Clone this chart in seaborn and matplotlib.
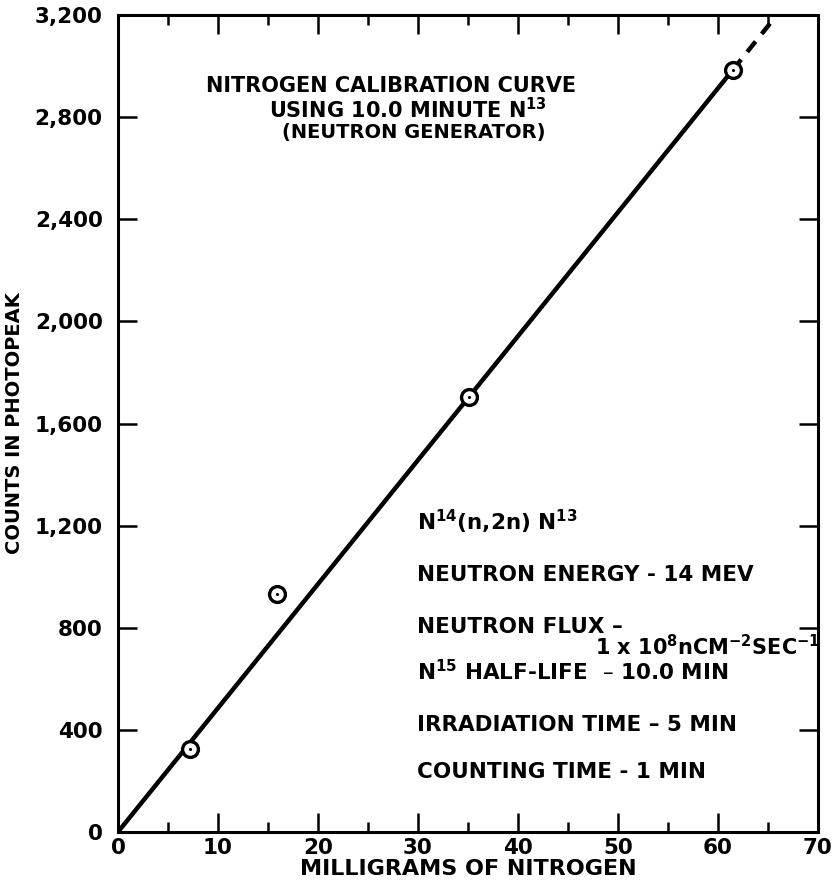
import matplotlib
matplotlib.use("Agg")
import matplotlib.pyplot as plt
import seaborn as sns
import pandas as pd
from matplotlib.ticker import MultipleLocator, FixedLocator, FixedFormatter

# ---- data ----
mg_nitrogen = [7.2, 15.9, 35.1, 61.5]
counts = [325, 933, 1702, 2985]

fit_x = [0.0, 61.5]
fit_y = [0.0, 2985.0]
ext_x = [61.5, 65.6]
ext_y = [2985.0, 3185.0]

x_ticks = [0, 10, 20, 30, 40, 50, 60, 70]
x_tick_labels = ["0", "10", "20", "30", "40", "50", "60", "70"]
y_ticks = [0, 400, 800, 1200, 1600, 2000, 2400, 2800, 3200]
y_tick_labels = ["0", "400", "800", "1,200", "1,600", "2,000", "2,400", "2,800", "3,200"]

title_lines = ["NITROGEN CALIBRATION CURVE",
               "USING 10.0 MINUTE N$^{13}$",
               "(NEUTRON GENERATOR)"]
info_lines = ["N$^{14}$(n,2n) N$^{13}$",
              "NEUTRON ENERGY - 14 MEV",
              "NEUTRON FLUX \u2013",
              "N$^{15}$ HALF-LIFE  \u2013 10.0 MIN",
              "IRRADIATION TIME \u2013 5 MIN",
              "COUNTING TIME - 1 MIN"]
flux_value = "1 x 10$^{8}$nCM$^{-2}$SEC$^{-1}$"

df_pts = pd.DataFrame({"mg": mg_nitrogen, "counts": counts})
df_fit = pd.DataFrame({"mg": fit_x, "counts": fit_y})
df_ext = pd.DataFrame({"mg": ext_x, "counts": ext_y})

sns.set_theme(style="ticks")
plt.rcParams["font.family"] = ["DejaVu Sans"]
plt.rcParams["font.weight"] = "bold"
plt.rcParams["mathtext.default"] = "bf"
plt.rcParams["text.color"] = "black"
plt.rcParams["axes.labelcolor"] = "black"
plt.rcParams["xtick.color"] = "black"
plt.rcParams["ytick.color"] = "black"

fig = plt.figure(figsize=(8.38, 8.86), dpi=100)
ax = fig.add_axes([0.1408, 0.061, 0.835, 0.922])

sns.lineplot(data=df_fit, x="mg", y="counts", ax=ax, color="black", lw=3.2)
sns.lineplot(data=df_ext, x="mg", y="counts", ax=ax, color="black", lw=3.2,
             linestyle=(0, (3, 2.2)))
sns.scatterplot(data=df_pts, x="mg", y="counts", ax=ax, marker="o", s=130,
                facecolor="white", edgecolor="black", linewidth=2.4, zorder=5)
sns.scatterplot(data=df_pts, x="mg", y="counts", ax=ax, marker="o", s=5,
                color="black", edgecolor="black", linewidth=0, zorder=6)

ax.set_xlim(0, 70)
ax.set_ylim(0, 3200)
ax.xaxis.set_major_locator(FixedLocator(x_ticks))
ax.xaxis.set_major_formatter(FixedFormatter(x_tick_labels))
ax.xaxis.set_minor_locator(MultipleLocator(5))
ax.yaxis.set_major_locator(FixedLocator(y_ticks))
ax.yaxis.set_major_formatter(FixedFormatter(y_tick_labels))

for s in ax.spines.values():
    s.set_linewidth(2.2)
    s.set_color("black")
ax.tick_params(which="both", direction="in", top=True, right=True,
               width=1.8, color="black", labelsize=15.5, labelcolor="black")
ax.tick_params(axis="x", which="major", pad=4)
ax.tick_params(axis="y", which="major", pad=11)
ax.tick_params(which="major", length=14)
ax.tick_params(which="minor", length=7)
ax.tick_params(axis="y", which="minor", left=False, right=False)
for lab in ax.get_xticklabels() + ax.get_yticklabels():
    lab.set_fontweight("bold")

ax.set_xlabel("MILLIGRAMS OF NITROGEN", fontsize=16, fontweight="bold", labelpad=1)
ax.set_ylabel("COUNTS IN PHOTOPEAK", fontsize=14, fontweight="bold", labelpad=8)

title_pos = [(27.3, 2922), (29.0, 2831), (29.6, 2741)]
title_sizes = [15, 15, 14]
for (tx, ty), t, fs in zip(title_pos, title_lines, title_sizes):
    ax.text(tx, ty, t, ha="center", va="center", fontsize=fs, fontweight="bold")

info_y = [1216, 1008, 804, 627, 420, 235]
for ty, t in zip(info_y, info_lines):
    ax.text(29.9, ty, t, ha="left", va="center", fontsize=15.5, fontweight="bold")
ax.text(70.2, 725, flux_value, ha="right", va="center", fontsize=15, fontweight="bold")

fig.savefig("out.png", dpi=100, facecolor="white")
